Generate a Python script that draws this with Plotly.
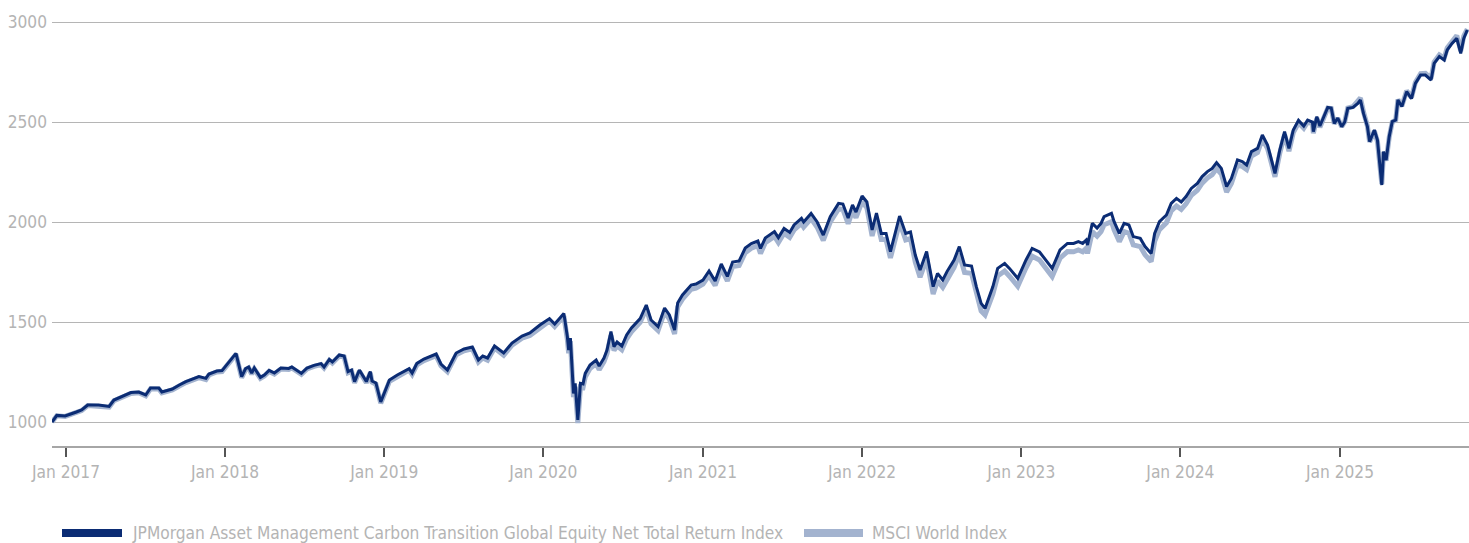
import plotly.graph_objects as go

dates = [
    "2016-11-30", "2016-12-11", "2016-12-30", "2017-01-10", "2017-01-25", "2017-02-06", "2017-02-20", "2017-03-17",
    "2017-04-10", "2017-04-21", "2017-05-18", "2017-05-30", "2017-06-17", "2017-07-03", "2017-07-14", "2017-08-02",
    "2017-08-09", "2017-09-02", "2017-09-18", "2017-10-03", "2017-11-02", "2017-11-18", "2017-11-25", "2017-12-13",
    "2017-12-25", "2018-01-04", "2018-01-26", "2018-02-08", "2018-02-17", "2018-02-24", "2018-03-03", "2018-03-09",
    "2018-03-23", "2018-04-01", "2018-04-12", "2018-04-24", "2018-05-09", "2018-05-27", "2018-06-03", "2018-06-25",
    "2018-07-08", "2018-07-24", "2018-08-09", "2018-08-16", "2018-08-28", "2018-09-04", "2018-09-20", "2018-10-01",
    "2018-10-10", "2018-10-18", "2018-10-25", "2018-11-05", "2018-11-13", "2018-11-21", "2018-11-30", "2018-12-04",
    "2018-12-13", "2018-12-24", "2019-01-13", "2019-01-31", "2019-02-27", "2019-03-06", "2019-03-17", "2019-04-02",
    "2019-04-30", "2019-05-11", "2019-05-26", "2019-06-15", "2019-07-03", "2019-07-22", "2019-08-05", "2019-08-15",
    "2019-08-26", "2019-09-11", "2019-10-02", "2019-10-21", "2019-11-13", "2019-12-01", "2019-12-24", "2020-01-15",
    "2020-01-27", "2020-02-17", "2020-02-25", "2020-02-28", "2020-03-03", "2020-03-10", "2020-03-14", "2020-03-20",
    "2020-03-26", "2020-04-01", "2020-04-06", "2020-04-13", "2020-04-17", "2020-05-01", "2020-05-08", "2020-05-19",
    "2020-05-26", "2020-06-04", "2020-06-11", "2020-06-18", "2020-06-29", "2020-07-10", "2020-07-21", "2020-08-10",
    "2020-08-24", "2020-09-04", "2020-09-20", "2020-10-05", "2020-10-16", "2020-10-28", "2020-11-04", "2020-11-15",
    "2020-12-05", "2020-12-16", "2021-01-01", "2021-01-15", "2021-01-29", "2021-02-12", "2021-02-26", "2021-03-10",
    "2021-03-25", "2021-04-08", "2021-04-22", "2021-05-07", "2021-05-13", "2021-05-24", "2021-06-14", "2021-06-23",
    "2021-07-06", "2021-07-19", "2021-07-29", "2021-08-15", "2021-08-20", "2021-09-06", "2021-09-20", "2021-10-04",
    "2021-10-20", "2021-11-08", "2021-11-18", "2021-11-30", "2021-12-10", "2021-12-18", "2022-01-01", "2022-01-12",
    "2022-01-24", "2022-02-03", "2022-02-14", "2022-02-25", "2022-03-07", "2022-03-28", "2022-04-11", "2022-04-22",
    "2022-05-03", "2022-05-14", "2022-05-29", "2022-06-13", "2022-06-23", "2022-07-05", "2022-07-15", "2022-07-31",
    "2022-08-12", "2022-08-24", "2022-09-09", "2022-09-20", "2022-10-01", "2022-10-10", "2022-10-17", "2022-10-28",
    "2022-11-08", "2022-11-24", "2022-12-05", "2022-12-24", "2023-01-12", "2023-01-26", "2023-02-12", "2023-02-28",
    "2023-03-13", "2023-03-31", "2023-04-17", "2023-05-01", "2023-05-12", "2023-05-22", "2023-05-30", "2023-06-02",
    "2023-06-13", "2023-06-24", "2023-07-03", "2023-07-10", "2023-07-27", "2023-08-02", "2023-08-14", "2023-08-25",
    "2023-09-05", "2023-09-15", "2023-10-01", "2023-10-12", "2023-10-26", "2023-11-03", "2023-11-14", "2023-11-30",
    "2023-12-11", "2023-12-23", "2024-01-03", "2024-01-14", "2024-01-26", "2024-02-09", "2024-02-20", "2024-03-03",
    "2024-03-14", "2024-03-24", "2024-04-04", "2024-04-16", "2024-04-27", "2024-05-11", "2024-05-22", "2024-06-01",
    "2024-06-12", "2024-06-26", "2024-07-07", "2024-07-19", "2024-08-05", "2024-08-16", "2024-08-27", "2024-09-06",
    "2024-09-16", "2024-09-28", "2024-10-10", "2024-10-19", "2024-10-30", "2024-11-01", "2024-11-09", "2024-11-16",
    "2024-11-27", "2024-12-04", "2024-12-12", "2024-12-19", "2024-12-27", "2025-01-05", "2025-01-12", "2025-01-19",
    "2025-01-31", "2025-02-11", "2025-02-17", "2025-02-24", "2025-03-05", "2025-03-10", "2025-03-21", "2025-03-28",
    "2025-04-07", "2025-04-11", "2025-04-17", "2025-04-24", "2025-05-01", "2025-05-09", "2025-05-14", "2025-05-23",
    "2025-06-03", "2025-06-14", "2025-06-23", "2025-07-05", "2025-07-16", "2025-07-29", "2025-08-05", "2025-08-17",
    "2025-08-28", "2025-09-04", "2025-09-15", "2025-09-26", "2025-10-05", "2025-10-12", "2025-10-20",
]

jpm_carbon = [
    1000, 1033, 1030, 1040, 1050, 1060, 1085, 1085,
    1078, 1110, 1135, 1147, 1150, 1135, 1170, 1170,
    1150, 1165, 1185, 1202, 1227, 1218, 1240, 1255,
    1257, 1285, 1343, 1227, 1267, 1275, 1245, 1270,
    1223, 1235, 1258, 1245, 1270, 1268, 1275, 1243,
    1270, 1283, 1292, 1275, 1313, 1300, 1335, 1330,
    1252, 1260, 1202, 1260, 1227, 1202, 1252, 1205,
    1195, 1100, 1210, 1235, 1267, 1245, 1293, 1315,
    1340, 1290, 1260, 1345, 1365, 1375, 1310, 1330,
    1320, 1380, 1345, 1395, 1430, 1445, 1485, 1517,
    1490, 1543, 1427, 1360, 1420, 1143, 1193, 1010,
    1193, 1190, 1243, 1267, 1285, 1310, 1280, 1320,
    1360, 1452, 1377, 1400, 1380, 1435, 1470, 1517,
    1585, 1510, 1477, 1570, 1535, 1460, 1595, 1635,
    1685, 1690, 1710, 1755, 1705, 1790, 1728, 1800,
    1805, 1870, 1892, 1905, 1868, 1920, 1952, 1922,
    1968, 1948, 1985, 2018, 2000, 2043, 2000, 1935,
    2027, 2093, 2090, 2020, 2085, 2050, 2130, 2100,
    1960, 2045, 1943, 1943, 1852, 2030, 1943, 1950,
    1835, 1760, 1852, 1677, 1743, 1710, 1752, 1810,
    1877, 1785, 1780, 1677, 1593, 1568, 1610, 1677,
    1768, 1793, 1768, 1718, 1810, 1868, 1850, 1802,
    1768, 1860, 1893, 1893, 1902, 1893, 1910, 1885,
    1993, 1970, 1993, 2027, 2043, 2002, 1943, 1993,
    1985, 1927, 1918, 1877, 1843, 1943, 2002, 2035,
    2093, 2118, 2100, 2127, 2168, 2193, 2227, 2252,
    2268, 2297, 2268, 2177, 2218, 2310, 2302, 2285,
    2352, 2368, 2435, 2385, 2243, 2360, 2452, 2368,
    2460, 2508, 2480, 2510, 2500, 2452, 2527, 2480,
    2535, 2573, 2570, 2493, 2520, 2477, 2500, 2568,
    2573, 2593, 2610, 2543, 2477, 2402, 2460, 2410,
    2185, 2352, 2310, 2427, 2502, 2510, 2610, 2577,
    2652, 2617, 2693, 2735, 2735, 2710, 2793, 2827,
    2810, 2860, 2893, 2918, 2843, 2918, 2960,
]

msci_world = [
    1000, 1031, 1028, 1037, 1047, 1057, 1082, 1081,
    1074, 1106, 1131, 1143, 1146, 1131, 1166, 1165,
    1145, 1160, 1180, 1197, 1222, 1212, 1235, 1250,
    1252, 1280, 1338, 1222, 1262, 1270, 1240, 1265,
    1218, 1230, 1253, 1240, 1265, 1263, 1270, 1238,
    1265, 1278, 1287, 1270, 1308, 1295, 1330, 1325,
    1246, 1254, 1196, 1254, 1221, 1196, 1246, 1199,
    1189, 1094, 1203, 1228, 1260, 1238, 1286, 1307,
    1332, 1281, 1251, 1336, 1356, 1366, 1300, 1320,
    1309, 1370, 1334, 1384, 1419, 1433, 1473, 1505,
    1477, 1530, 1412, 1344, 1404, 1125, 1176, 995,
    1175, 1172, 1225, 1249, 1267, 1292, 1262, 1302,
    1342, 1434, 1358, 1381, 1361, 1416, 1451, 1498,
    1566, 1490, 1457, 1550, 1515, 1440, 1575, 1614,
    1664, 1669, 1689, 1733, 1683, 1768, 1705, 1777,
    1782, 1847, 1869, 1882, 1843, 1896, 1928, 1897,
    1944, 1923, 1960, 1993, 1975, 2017, 1974, 1908,
    2000, 2066, 2063, 1992, 2057, 2022, 2102, 2071,
    1930, 2015, 1912, 1912, 1820, 1998, 1910, 1917,
    1800, 1724, 1817, 1640, 1706, 1673, 1715, 1773,
    1840, 1748, 1743, 1639, 1555, 1535, 1573, 1640,
    1730, 1755, 1729, 1679, 1771, 1829, 1810, 1762,
    1727, 1819, 1852, 1851, 1860, 1851, 1868, 1843,
    1952, 1929, 1952, 1986, 2002, 1961, 1902, 1952,
    1944, 1886, 1877, 1836, 1802, 1903, 1962, 1996,
    2055, 2080, 2063, 2091, 2133, 2159, 2194, 2220,
    2237, 2267, 2240, 2150, 2192, 2285, 2278, 2262,
    2330, 2347, 2415, 2367, 2226, 2344, 2437, 2354,
    2447, 2496, 2469, 2500, 2491, 2444, 2520, 2474,
    2530, 2569, 2567, 2491, 2519, 2477, 2501, 2570,
    2577, 2600, 2620, 2550, 2480, 2400, 2455, 2402,
    2190, 2350, 2306, 2424, 2500, 2510, 2612, 2580,
    2656, 2622, 2698, 2742, 2743, 2718, 2800, 2835,
    2819, 2870, 2905, 2932, 2855, 2930, 2965,
]

series_names = [
    "JPMorgan Asset Management Carbon Transition Global Equity Net Total Return Index",
    "MSCI World Index",
]
y_ticks = [1000, 1500, 2000, 2500, 3000]

DARK = "#0b2c74"
LIGHT = "#a3b3cf"
TEXT = "#b4b4b4"
FONT = "DejaVu Sans Condensed, Roboto, sans-serif"
FS = 17.2

W, H = 1469, 543
ML, MR, MT, MB = 52, 0, 12, 97

fig = go.Figure()
fig.add_trace(go.Scatter(x=dates, y=msci_world, mode="lines", name=series_names[1],
                         line=dict(color=LIGHT, width=5), showlegend=False))
fig.add_trace(go.Scatter(x=dates, y=jpm_carbon, mode="lines", name=series_names[0],
                         line=dict(color=DARK, width=3), showlegend=False))

# custom legend (swatches + labels) below the plot
pw = W - ML - MR
ph = H - MT - MB
def px_x(p):
    return (p - ML) / pw
def px_y(p):
    return (H - MB - p) / ph

legend_items = [(62, 122, 132, series_names[0], DARK), (804, 863, 872, series_names[1], LIGHT)]
for x0, x1, tx, name, col in legend_items:
    fig.add_shape(type="rect", xref="paper", yref="paper",
                  x0=px_x(x0), x1=px_x(x1), y0=px_y(537), y1=px_y(529),
                  fillcolor=col, line=dict(width=0))
    fig.add_annotation(xref="paper", yref="paper", x=px_x(tx), y=px_y(533),
                       text=name, showarrow=False, xanchor="left", yanchor="middle",
                       xshift=-2, font=dict(family=FONT, size=FS, color=TEXT))

fig.update_layout(
    width=W, height=H,
    margin=dict(l=ML, r=MR, t=MT, b=MB),
    paper_bgcolor="white", plot_bgcolor="white",
    font=dict(family=FONT, size=FS, color=TEXT),
    hovermode="x unified",
)
fig.update_xaxes(
    type="date",
    range=["2016-11-30", "2025-10-24"],
    tick0="2017-01-01", dtick="M12", tickformat="%b %Y",
    ticks="outside", ticklen=9, tickwidth=2, tickcolor="#555555",
    showline=True, linecolor="#a6a6a6", linewidth=2,
    showgrid=False, zeroline=False,
    tickfont=dict(family=FONT, size=FS, color=TEXT),
)
fig.update_yaxes(
    range=[880, 3050],
    tickvals=y_ticks,
    showgrid=True, gridcolor="#b5b5b5", gridwidth=1,
    showline=False, zeroline=False, ticks="",
    ticklabelstandoff=4,
    tickfont=dict(family=FONT, size=FS, color=TEXT),
)

fig.write_html("out.html", config={"displayModeBar": False},
               post_script="document.body.style.margin='0';")
